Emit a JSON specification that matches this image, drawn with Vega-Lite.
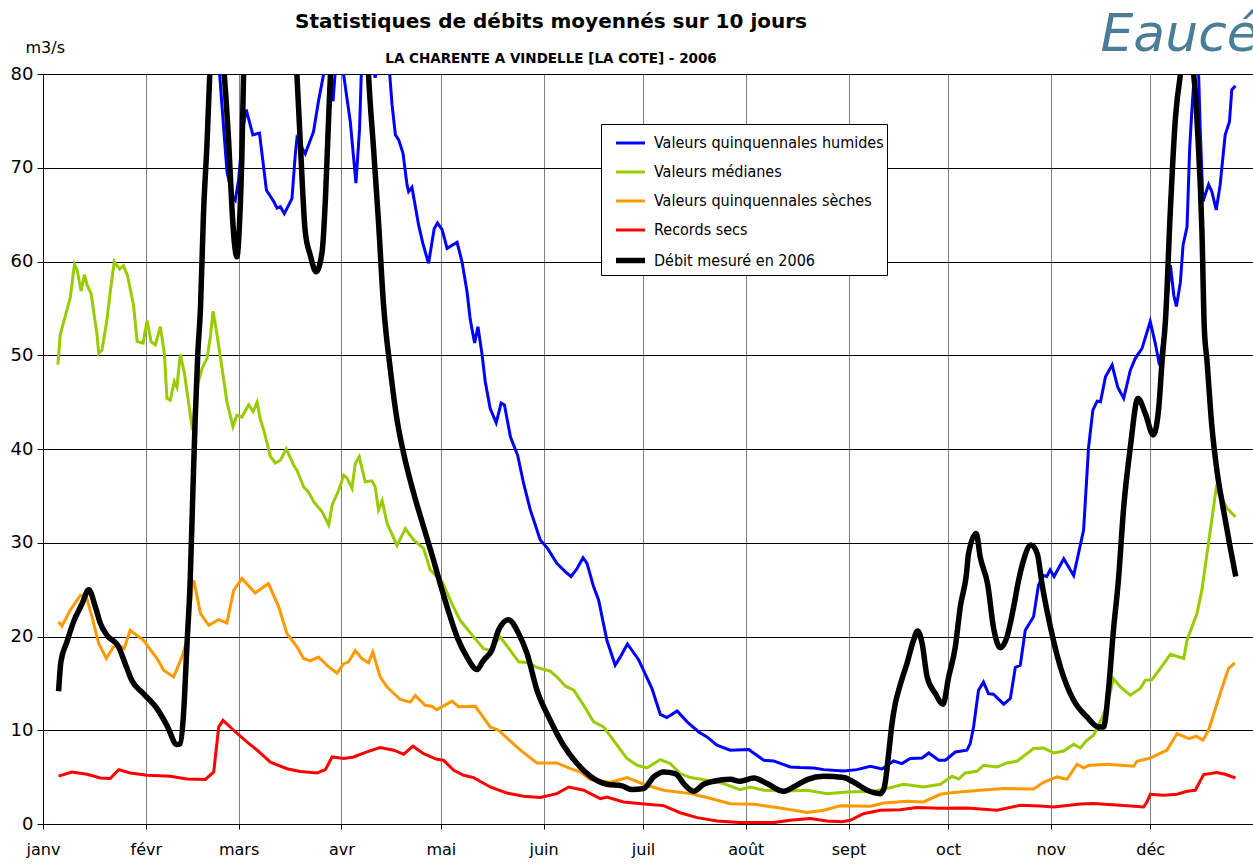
{
  "$schema": "https://vega.github.io/schema/vega-lite/v6.json",
  "width": 1210,
  "height": 750,
  "autosize": {"type": "none"},
  "padding": {"left": 43, "top": 74, "right": 0, "bottom": 44},
  "background": "white",
  "config": {
    "view": {"stroke": null},
    "font": "DejaVu Sans"
  },
  "title": {
    "text": "Statistiques de débits moyennés sur 10 jours",
    "subtitle": "LA CHARENTE A VINDELLE [LA COTE] - 2006",
    "anchor": "middle",
    "frame": "group",
    "dx": -97,
    "font": "DejaVu Sans",
    "fontSize": 20,
    "fontWeight": "bold",
    "color": "#000000",
    "subtitleFont": "DejaVu Sans",
    "subtitleFontSize": 13.5,
    "subtitleFontWeight": "bold",
    "subtitleColor": "#000000",
    "subtitlePadding": 20,
    "offset": -57
  },
  "data": {"values": [
    {"s":"H","j":4.5,"v":95},{"s":"H","j":30,"v":100},{"s":"H","j":50,"v":95},{"s":"H","j":52.3,"v":86},{"s":"H","j":53.3,"v":79.9},{"s":"H","j":54.5,"v":74.2},{"s":"H","j":55.5,"v":69.6},{"s":"H","j":57,"v":67.1},{"s":"H","j":58,"v":66.56},{"s":"H","j":59,"v":68.7},{"s":"H","j":60.5,"v":74.6},{"s":"H","j":61.3,"v":76.2},{"s":"H","j":63.3,"v":73.5},{"s":"H","j":65.3,"v":73.7},{"s":"H","j":67.4,"v":67.6},{"s":"H","j":69.6,"v":66.4},{"s":"H","j":70.6,"v":65.7},{"s":"H","j":71.6,"v":65.85},{"s":"H","j":72.8,"v":65.1},{"s":"H","j":75.1,"v":66.7},{"s":"H","j":76.1,"v":71.4},{"s":"H","j":76.6,"v":73.1},{"s":"H","j":79.1,"v":71.5},{"s":"H","j":81.6,"v":73.85},{"s":"H","j":83.1,"v":77.1},{"s":"H","j":84.6,"v":79.9},{"s":"H","j":86,"v":83},{"s":"H","j":87.5,"v":77.1},{"s":"H","j":88.5,"v":82},{"s":"H","j":90.7,"v":79.9},{"s":"H","j":92.7,"v":74.9},{"s":"H","j":94.4,"v":68.35},{"s":"H","j":95.5,"v":74.2},{"s":"H","j":96,"v":79.9},{"s":"H","j":98,"v":84},{"s":"H","j":100.2,"v":79.6},{"s":"H","j":102.5,"v":84},{"s":"H","j":104.6,"v":79.9},{"s":"H","j":105.3,"v":76.7},{"s":"H","j":106.3,"v":73.5},{"s":"H","j":107.3,"v":72.97},{"s":"H","j":108.6,"v":71.55},{"s":"H","j":109.8,"v":68.2},{"s":"H","j":110.3,"v":67.45},{"s":"H","j":111.3,"v":67.9},{"s":"H","j":113.3,"v":63.9},{"s":"H","j":114.6,"v":61.9},{"s":"H","j":116.3,"v":59.8},{"s":"H","j":118,"v":63.5},{"s":"H","j":119,"v":64.1},{"s":"H","j":120.4,"v":63.4},{"s":"H","j":121.9,"v":61.4},{"s":"H","j":124.9,"v":62.05},{"s":"H","j":126.4,"v":59.98},{"s":"H","j":127.9,"v":56.8},{"s":"H","j":128.9,"v":53.75},{"s":"H","j":130.2,"v":51.3},{"s":"H","j":131.2,"v":53.04},{"s":"H","j":132.4,"v":50.2},{"s":"H","j":133.4,"v":47.2},{"s":"H","j":134.9,"v":44.3},{"s":"H","j":136.7,"v":42.8},{"s":"H","j":138.2,"v":44.9},{"s":"H","j":139.2,"v":44.7},{"s":"H","j":141,"v":41.3},{"s":"H","j":143.2,"v":39.3},{"s":"H","j":145,"v":36.3},{"s":"H","j":147,"v":33.5},{"s":"H","j":150,"v":30.3},{"s":"H","j":152.2,"v":29.4},{"s":"H","j":155,"v":27.8},{"s":"H","j":157.6,"v":26.9},{"s":"H","j":159.3,"v":26.4},{"s":"H","j":161.1,"v":27.25},{"s":"H","j":162.9,"v":28.4},{"s":"H","j":164.1,"v":27.8},{"s":"H","j":166.1,"v":25.3},{"s":"H","j":167.6,"v":23.9},{"s":"H","j":170.1,"v":19.6},{"s":"H","j":172.6,"v":16.94},{"s":"H","j":174.1,"v":17.8},{"s":"H","j":176.3,"v":19.2},{"s":"H","j":179.7,"v":17.5},{"s":"H","j":183.7,"v":14.45},{"s":"H","j":186.2,"v":11.7},{"s":"H","j":188.2,"v":11.35},{"s":"H","j":191.3,"v":12.06},{"s":"H","j":194.3,"v":10.9},{"s":"H","j":197.8,"v":9.82},{"s":"H","j":200.3,"v":9.29},{"s":"H","j":203.3,"v":8.4},{"s":"H","j":207.3,"v":7.87},{"s":"H","j":212.9,"v":7.94},{"s":"H","j":217.4,"v":6.8},{"s":"H","j":220.4,"v":6.73},{"s":"H","j":225.4,"v":6.08},{"s":"H","j":228.4,"v":6.02},{"s":"H","j":232.5,"v":5.98},{"s":"H","j":235.5,"v":5.8},{"s":"H","j":241.5,"v":5.66},{"s":"H","j":245.5,"v":5.8},{"s":"H","j":249.6,"v":6.16},{"s":"H","j":253.1,"v":5.87},{"s":"H","j":256.6,"v":6.72},{"s":"H","j":259.1,"v":6.44},{"s":"H","j":261.6,"v":6.98},{"s":"H","j":265.2,"v":7.04},{"s":"H","j":267.2,"v":7.58},{"s":"H","j":270.2,"v":6.8},{"s":"H","j":272.2,"v":6.8},{"s":"H","j":275.2,"v":7.68},{"s":"H","j":278.7,"v":7.87},{"s":"H","j":279.7,"v":8.58},{"s":"H","j":280.7,"v":10.35},{"s":"H","j":282.2,"v":14.27},{"s":"H","j":283.7,"v":15.15},{"s":"H","j":285.2,"v":13.9},{"s":"H","j":286.7,"v":13.84},{"s":"H","j":289.8,"v":12.78},{"s":"H","j":291.8,"v":13.38},{"s":"H","j":293.3,"v":16.7},{"s":"H","j":294.8,"v":16.94},{"s":"H","j":296.3,"v":20.67},{"s":"H","j":298.8,"v":22.1},{"s":"H","j":300.3,"v":25.5},{"s":"H","j":301.8,"v":26.5},{"s":"H","j":302.8,"v":26.4},{"s":"H","j":303.8,"v":27.1},{"s":"H","j":305,"v":26.4},{"s":"H","j":307.9,"v":28.3},{"s":"H","j":310.9,"v":26.5},{"s":"H","j":313.9,"v":31.35},{"s":"H","j":315.4,"v":40.2},{"s":"H","j":316.7,"v":44.15},{"s":"H","j":318,"v":45.1},{"s":"H","j":319,"v":45.04},{"s":"H","j":320.5,"v":47.7},{"s":"H","j":322.5,"v":48.95},{"s":"H","j":324.2,"v":46.6},{"s":"H","j":326,"v":45.4},{"s":"H","j":328,"v":48.4},{"s":"H","j":329.5,"v":49.67},{"s":"H","j":331.5,"v":50.7},{"s":"H","j":334,"v":53.6},{"s":"H","j":335.5,"v":51.3},{"s":"H","j":336.8,"v":48.95},{"s":"H","j":338,"v":52},{"s":"H","j":340.1,"v":59.6},{"s":"H","j":341.1,"v":56.4},{"s":"H","j":341.9,"v":55.2},{"s":"H","j":343.1,"v":57.8},{"s":"H","j":343.9,"v":61.75},{"s":"H","j":345.1,"v":63.7},{"s":"H","j":345.9,"v":72.1},{"s":"H","j":346.6,"v":76.35},{"s":"H","j":347.3,"v":79.9},{"s":"H","j":348,"v":84},{"s":"H","j":348.6,"v":79.9},{"s":"H","j":349.1,"v":73.85},{"s":"H","j":349.9,"v":66.4},{"s":"H","j":351.6,"v":68.2},{"s":"H","j":352.6,"v":67.45},{"s":"H","j":353.9,"v":65.5},{"s":"H","j":355.1,"v":68.2},{"s":"H","j":356.6,"v":73.5},{"s":"H","j":357.9,"v":74.9},{"s":"H","j":358.6,"v":78.3},{"s":"H","j":359.7,"v":78.75},

    {"s":"M","j":4.5,"v":49.0},{"s":"M","j":5.2,"v":52.2},{"s":"M","j":8.2,"v":56.1},{"s":"M","j":9.5,"v":59.7},{"s":"M","j":10.3,"v":59.1},{"s":"M","j":11.5,"v":56.85},{"s":"M","j":12.5,"v":58.6},{"s":"M","j":13.3,"v":57.5},{"s":"M","j":14.5,"v":56.6},{"s":"M","j":16.3,"v":52.2},{"s":"M","j":16.8,"v":50.2},{"s":"M","j":17.8,"v":50.55},{"s":"M","j":19.3,"v":53.8},{"s":"M","j":20.3,"v":56.8},{"s":"M","j":21.5,"v":60.0},{"s":"M","j":23.1,"v":59.2},{"s":"M","j":24.3,"v":59.55},{"s":"M","j":25.5,"v":58.5},{"s":"M","j":27.3,"v":55.36},{"s":"M","j":28.4,"v":51.45},{"s":"M","j":30.2,"v":51.3},{"s":"M","j":31.4,"v":53.7},{"s":"M","j":32.6,"v":51.45},{"s":"M","j":33.9,"v":51.1},{"s":"M","j":35.4,"v":53.05},{"s":"M","j":36.6,"v":50.2},{"s":"M","j":37.4,"v":45.4},{"s":"M","j":38.4,"v":45.2},{"s":"M","j":39.6,"v":47.2},{"s":"M","j":40.4,"v":46.6},{"s":"M","j":41.4,"v":50.1},{"s":"M","j":42.6,"v":48.2},{"s":"M","j":45.1,"v":42.0},{"s":"M","j":46.4,"v":46.6},{"s":"M","j":48,"v":48.6},{"s":"M","j":49.5,"v":49.7},{"s":"M","j":50.5,"v":52.0},{"s":"M","j":51.3,"v":54.7},{"s":"M","j":52.5,"v":52.2},{"s":"M","j":53.5,"v":49.85},{"s":"M","j":55.5,"v":45.0},{"s":"M","j":57.3,"v":42.4},{"s":"M","j":58.5,"v":43.6},{"s":"M","j":60,"v":43.4},{"s":"M","j":62,"v":44.7},{"s":"M","j":63.4,"v":44.0},{"s":"M","j":64.6,"v":45.0},{"s":"M","j":65.6,"v":43.1},{"s":"M","j":66.6,"v":42.0},{"s":"M","j":68.6,"v":39.2},{"s":"M","j":70.1,"v":38.5},{"s":"M","j":71.6,"v":38.8},{"s":"M","j":73.4,"v":40.0},{"s":"M","j":75.6,"v":38.3},{"s":"M","j":76.6,"v":37.75},{"s":"M","j":78.6,"v":35.97},{"s":"M","j":80.1,"v":35.4},{"s":"M","j":81.6,"v":34.4},{"s":"M","j":84.2,"v":33.3},{"s":"M","j":86.2,"v":31.9},{"s":"M","j":87.2,"v":34.0},{"s":"M","j":89.2,"v":35.6},{"s":"M","j":90.7,"v":37.2},{"s":"M","j":91.7,"v":36.9},{"s":"M","j":93.2,"v":35.8},{"s":"M","j":94.2,"v":38.46},{"s":"M","j":95.4,"v":39.17},{"s":"M","j":97.2,"v":36.5},{"s":"M","j":99.2,"v":36.6},{"s":"M","j":100.2,"v":35.97},{"s":"M","j":101.2,"v":33.5},{"s":"M","j":102.3,"v":34.5},{"s":"M","j":103.8,"v":32.06},{"s":"M","j":106.8,"v":29.7},{"s":"M","j":109.3,"v":31.5},{"s":"M","j":111.8,"v":30.3},{"s":"M","j":114.8,"v":29.4},{"s":"M","j":116.8,"v":27.1},{"s":"M","j":118.8,"v":26.4},{"s":"M","j":120.5,"v":25.8},{"s":"M","j":123.4,"v":23.45},{"s":"M","j":125.9,"v":21.7},{"s":"M","j":129.9,"v":19.96},{"s":"M","j":132.9,"v":18.7},{"s":"M","j":134.9,"v":18.5},{"s":"M","j":137.9,"v":19.96},{"s":"M","j":141,"v":18.5},{"s":"M","j":143.5,"v":17.3},{"s":"M","j":146.5,"v":17.2},{"s":"M","j":149,"v":16.7},{"s":"M","j":153,"v":16.3},{"s":"M","j":155,"v":15.7},{"s":"M","j":157.6,"v":14.7},{"s":"M","j":160.1,"v":14.27},{"s":"M","j":163.1,"v":12.67},{"s":"M","j":166.1,"v":10.9},{"s":"M","j":169.1,"v":10.35},{"s":"M","j":172.1,"v":8.93},{"s":"M","j":176.2,"v":6.98},{"s":"M","j":179.2,"v":6.26},{"s":"M","j":182.2,"v":5.98},{"s":"M","j":186.2,"v":6.87},{"s":"M","j":189.2,"v":6.45},{"s":"M","j":192.2,"v":5.38},{"s":"M","j":195.3,"v":4.95},{"s":"M","j":200.3,"v":4.66},{"s":"M","j":205.3,"v":4.31},{"s":"M","j":210.3,"v":3.67},{"s":"M","j":213.4,"v":3.95},{"s":"M","j":217.4,"v":3.6},{"s":"M","j":224.4,"v":3.52},{"s":"M","j":230.5,"v":3.6},{"s":"M","j":236.5,"v":3.24},{"s":"M","j":242.5,"v":3.42},{"s":"M","j":250.6,"v":3.49},{"s":"M","j":254.6,"v":3.78},{"s":"M","j":259.6,"v":4.24},{"s":"M","j":265.6,"v":3.95},{"s":"M","j":270.7,"v":4.24},{"s":"M","j":274.2,"v":5.09},{"s":"M","j":276.2,"v":4.8},{"s":"M","j":278.2,"v":5.44},{"s":"M","j":281.7,"v":5.62},{"s":"M","j":283.7,"v":6.26},{"s":"M","j":287.8,"v":6.08},{"s":"M","j":290.8,"v":6.51},{"s":"M","j":293.8,"v":6.69},{"s":"M","j":298.8,"v":8.05},{"s":"M","j":301.8,"v":8.11},{"s":"M","j":304.9,"v":7.58},{"s":"M","j":307.9,"v":7.79},{"s":"M","j":310.9,"v":8.5},{"s":"M","j":312.9,"v":8.11},{"s":"M","j":314.9,"v":8.93},{"s":"M","j":316.9,"v":9.47},{"s":"M","j":318.9,"v":10.9},{"s":"M","j":320.9,"v":12.49},{"s":"M","j":322.9,"v":15.52},{"s":"M","j":325,"v":14.62},{"s":"M","j":328,"v":13.74},{"s":"M","j":331,"v":14.45},{"s":"M","j":332.5,"v":15.34},{"s":"M","j":334.5,"v":15.4},{"s":"M","j":337,"v":16.58},{"s":"M","j":340.1,"v":18.1},{"s":"M","j":344.1,"v":17.65},{"s":"M","j":345.1,"v":19.6},{"s":"M","j":348.1,"v":22.45},{"s":"M","j":349.6,"v":25.0},{"s":"M","j":353.9,"v":35.8},{"s":"M","j":357.2,"v":33.66},{"s":"M","j":359.7,"v":32.76},

    {"s":"S","j":4.7,"v":21.56},{"s":"S","j":5.7,"v":21.1},{"s":"S","j":8.2,"v":22.8},{"s":"S","j":11.3,"v":24.4},{"s":"S","j":13.1,"v":24.2},{"s":"S","j":14.8,"v":22.1},{"s":"S","j":16.8,"v":19.25},{"s":"S","j":19.1,"v":17.65},{"s":"S","j":21.3,"v":18.9},{"s":"S","j":22.8,"v":19.07},{"s":"S","j":24.5,"v":18.72},{"s":"S","j":26.3,"v":20.67},{"s":"S","j":30.3,"v":19.6},{"s":"S","j":34.4,"v":17.65},{"s":"S","j":36.4,"v":16.4},{"s":"S","j":39.4,"v":15.69},{"s":"S","j":41.9,"v":17.8},{"s":"S","j":43.4,"v":19.6},{"s":"S","j":45,"v":25.3},{"s":"S","j":45.5,"v":26.0},{"s":"S","j":47.5,"v":22.45},{"s":"S","j":50,"v":21.2},{"s":"S","j":53,"v":21.8},{"s":"S","j":55.5,"v":21.45},{"s":"S","j":57.5,"v":24.9},{"s":"S","j":60,"v":26.2},{"s":"S","j":64,"v":24.65},{"s":"S","j":68,"v":25.65},{"s":"S","j":71.1,"v":23.16},{"s":"S","j":73.6,"v":20.3},{"s":"S","j":76.6,"v":18.9},{"s":"S","j":78.6,"v":17.65},{"s":"S","j":80.6,"v":17.4},{"s":"S","j":83.1,"v":17.8},{"s":"S","j":86.2,"v":16.75},{"s":"S","j":88.7,"v":16.1},{"s":"S","j":90.7,"v":17.1},{"s":"S","j":92.2,"v":17.3},{"s":"S","j":94.2,"v":18.5},{"s":"S","j":96.2,"v":17.65},{"s":"S","j":98.2,"v":17.2},{"s":"S","j":99.5,"v":18.35},{"s":"S","j":101.7,"v":15.69},{"s":"S","j":103.8,"v":14.6},{"s":"S","j":107.8,"v":13.28},{"s":"S","j":110.8,"v":13.0},{"s":"S","j":112.3,"v":13.7},{"s":"S","j":115.3,"v":12.67},{"s":"S","j":117.3,"v":12.56},{"s":"S","j":118.8,"v":12.2},{"s":"S","j":121.4,"v":12.7},{"s":"S","j":123.4,"v":13.1},{"s":"S","j":125.4,"v":12.5},{"s":"S","j":130.4,"v":12.56},{"s":"S","j":134.9,"v":10.35},{"s":"S","j":137.4,"v":10.0},{"s":"S","j":144,"v":7.87},{"s":"S","j":149,"v":6.51},{"s":"S","j":155,"v":6.51},{"s":"S","j":159.1,"v":5.9},{"s":"S","j":162.1,"v":5.55},{"s":"S","j":165.1,"v":4.74},{"s":"S","j":171.2,"v":4.45},{"s":"S","j":176.2,"v":4.95},{"s":"S","j":181.2,"v":4.24},{"s":"S","j":187.2,"v":3.6},{"s":"S","j":195.3,"v":3.24},{"s":"S","j":200.3,"v":2.82},{"s":"S","j":207.3,"v":2.17},{"s":"S","j":214.4,"v":2.1},{"s":"S","j":222.4,"v":1.71},{"s":"S","j":230.5,"v":1.22},{"s":"S","j":235.5,"v":1.46},{"s":"S","j":240.5,"v":1.94},{"s":"S","j":249.6,"v":1.89},{"s":"S","j":253.6,"v":2.24},{"s":"S","j":260.6,"v":2.42},{"s":"S","j":265.6,"v":2.35},{"s":"S","j":270.7,"v":3.17},{"s":"S","j":274.7,"v":3.35},{"s":"S","j":282.8,"v":3.6},{"s":"S","j":289.8,"v":3.78},{"s":"S","j":298.8,"v":3.74},{"s":"S","j":301.8,"v":4.45},{"s":"S","j":305.9,"v":5.02},{"s":"S","j":308.9,"v":4.77},{"s":"S","j":311.9,"v":6.37},{"s":"S","j":313.9,"v":5.98},{"s":"S","j":315.4,"v":6.23},{"s":"S","j":321,"v":6.37},{"s":"S","j":329,"v":6.16},{"s":"S","j":330,"v":6.69},{"s":"S","j":334,"v":7.04},{"s":"S","j":339,"v":7.87},{"s":"S","j":342.1,"v":9.65},{"s":"S","j":345.6,"v":9.11},{"s":"S","j":347.9,"v":9.36},{"s":"S","j":349.9,"v":8.93},{"s":"S","j":351.6,"v":10.0},{"s":"S","j":355.1,"v":13.92},{"s":"S","j":357.6,"v":16.58},{"s":"S","j":359.5,"v":17.18},

    {"s":"R","j":4.7,"v":5.1},{"s":"R","j":8.7,"v":5.55},{"s":"R","j":13.3,"v":5.3},{"s":"R","j":17.3,"v":4.9},{"s":"R","j":20.3,"v":4.85},{"s":"R","j":22.8,"v":5.8},{"s":"R","j":26.3,"v":5.45},{"s":"R","j":31.4,"v":5.2},{"s":"R","j":38.4,"v":5.1},{"s":"R","j":43.4,"v":4.8},{"s":"R","j":49,"v":4.75},{"s":"R","j":51.5,"v":5.55},{"s":"R","j":53,"v":10.35},{"s":"R","j":54.3,"v":11.05},{"s":"R","j":57.5,"v":10.0},{"s":"R","j":61.5,"v":8.75},{"s":"R","j":64.6,"v":7.87},{"s":"R","j":68.6,"v":6.6},{"s":"R","j":73.6,"v":5.9},{"s":"R","j":77.6,"v":5.6},{"s":"R","j":82.7,"v":5.45},{"s":"R","j":85.2,"v":5.8},{"s":"R","j":87.2,"v":7.15},{"s":"R","j":90.7,"v":6.98},{"s":"R","j":93.7,"v":7.15},{"s":"R","j":97.7,"v":7.7},{"s":"R","j":101.7,"v":8.15},{"s":"R","j":105.8,"v":7.87},{"s":"R","j":108.8,"v":7.44},{"s":"R","j":111.6,"v":8.3},{"s":"R","j":114.8,"v":7.5},{"s":"R","j":118.8,"v":6.9},{"s":"R","j":120.8,"v":6.8},{"s":"R","j":123.9,"v":5.73},{"s":"R","j":126.9,"v":5.2},{"s":"R","j":129.9,"v":4.95},{"s":"R","j":134.9,"v":3.95},{"s":"R","j":140,"v":3.3},{"s":"R","j":145,"v":2.96},{"s":"R","j":150,"v":2.82},{"s":"R","j":155,"v":3.24},{"s":"R","j":158.6,"v":3.95},{"s":"R","j":163.1,"v":3.6},{"s":"R","j":168.1,"v":2.7},{"s":"R","j":170.1,"v":2.88},{"s":"R","j":175.1,"v":2.35},{"s":"R","j":182.2,"v":2.1},{"s":"R","j":187.2,"v":1.96},{"s":"R","j":192.2,"v":1.2},{"s":"R","j":197.3,"v":0.68},{"s":"R","j":203.3,"v":0.32},{"s":"R","j":210.3,"v":0.15},{"s":"R","j":220.4,"v":0.15},{"s":"R","j":225.4,"v":0.4},{"s":"R","j":231.5,"v":0.58},{"s":"R","j":236.5,"v":0.32},{"s":"R","j":241,"v":0.25},{"s":"R","j":243.5,"v":0.4},{"s":"R","j":247.5,"v":1.1},{"s":"R","j":252.6,"v":1.46},{"s":"R","j":258.6,"v":1.53},{"s":"R","j":263.6,"v":1.75},{"s":"R","j":270.7,"v":1.68},{"s":"R","j":278.7,"v":1.71},{"s":"R","j":287.8,"v":1.46},{"s":"R","j":294.8,"v":2.0},{"s":"R","j":300.8,"v":1.92},{"s":"R","j":304.9,"v":1.81},{"s":"R","j":312.9,"v":2.13},{"s":"R","j":316.9,"v":2.18},{"s":"R","j":325,"v":2.0},{"s":"R","j":332,"v":1.81},{"s":"R","j":333,"v":2.35},{"s":"R","j":334,"v":3.17},{"s":"R","j":338,"v":3.06},{"s":"R","j":342.1,"v":3.17},{"s":"R","j":345.1,"v":3.49},{"s":"R","j":347.6,"v":3.6},{"s":"R","j":350.1,"v":5.27},{"s":"R","j":354.1,"v":5.49},{"s":"R","j":356.6,"v":5.3},{"s":"R","j":359.7,"v":4.91},

    {"s":"D","j":4.7,"v":14.16},{"s":"D","j":5.4,"v":17.3},{"s":"D","j":7.2,"v":19.4},{"s":"D","j":9.2,"v":21.56},{"s":"D","j":11.8,"v":23.5},{"s":"D","j":13.8,"v":25.0},{"s":"D","j":15.8,"v":23.16},{"s":"D","j":17.3,"v":21.4},{"s":"D","j":19.3,"v":20.14},{"s":"D","j":22.8,"v":18.9},{"s":"D","j":24.8,"v":17.1},{"s":"D","j":26.8,"v":15.3},{"s":"D","j":30.3,"v":13.9},{"s":"D","j":34.4,"v":12.3},{"s":"D","j":37.4,"v":10.5},{"s":"D","j":40.4,"v":8.47},{"s":"D","j":41.4,"v":8.58},{"s":"D","j":42.4,"v":11.8},{"s":"D","j":43.4,"v":18.9},{"s":"D","j":44.4,"v":26.0},{"s":"D","j":45.2,"v":35.3},{"s":"D","j":45.9,"v":43.1},{"s":"D","j":46.7,"v":50.2},{"s":"D","j":47.5,"v":55},{"s":"D","j":48.4,"v":64.97},{"s":"D","j":49.5,"v":72.8},{"s":"D","j":50.3,"v":79.9},{"s":"D","j":52.5,"v":88},{"s":"D","j":54.7,"v":79.9},{"s":"D","j":56,"v":72.8},{"s":"D","j":57,"v":65.7},{"s":"D","j":57.7,"v":62.1},{"s":"D","j":58.5,"v":60.5},{"s":"D","j":59.3,"v":64.25},{"s":"D","j":60,"v":71.4},{"s":"D","j":60.5,"v":79.9},{"s":"D","j":63,"v":95},{"s":"D","j":68,"v":100},{"s":"D","j":73,"v":98},{"s":"D","j":76.6,"v":79.9},{"s":"D","j":77.6,"v":72.8},{"s":"D","j":79.1,"v":63.2},{"s":"D","j":80.6,"v":60.7},{"s":"D","j":82.4,"v":58.9},{"s":"D","j":84.2,"v":61.05},{"s":"D","j":85.2,"v":66.75},{"s":"D","j":86,"v":73.85},{"s":"D","j":86.7,"v":79.9},{"s":"D","j":89,"v":92},{"s":"D","j":93,"v":100},{"s":"D","j":97,"v":90},{"s":"D","j":98.2,"v":79.9},{"s":"D","j":99.7,"v":72.1},{"s":"D","j":101.2,"v":64.25},{"s":"D","j":102.7,"v":55.5},{"s":"D","j":104.8,"v":48.4},{"s":"D","j":106.8,"v":43.1},{"s":"D","j":108.8,"v":39.5},{"s":"D","j":111.8,"v":35.3},{"s":"D","j":114.8,"v":31.7},{"s":"D","j":117.8,"v":28.15},{"s":"D","j":119.8,"v":25.65},{"s":"D","j":121.9,"v":23.16},{"s":"D","j":124.9,"v":19.96},{"s":"D","j":127.9,"v":17.8},{"s":"D","j":130.9,"v":16.48},{"s":"D","j":132.9,"v":17.47},{"s":"D","j":135.4,"v":18.54},{"s":"D","j":137.4,"v":20.67},{"s":"D","j":140.4,"v":21.8},{"s":"D","j":143.5,"v":20.3},{"s":"D","j":146,"v":18.2},{"s":"D","j":149,"v":14.27},{"s":"D","j":153,"v":11.07},{"s":"D","j":157,"v":8.4},{"s":"D","j":161.1,"v":6.45},{"s":"D","j":165.1,"v":5.09},{"s":"D","j":170.1,"v":4.24},{"s":"D","j":174.7,"v":4.06},{"s":"D","j":177.7,"v":3.67},{"s":"D","j":181.2,"v":3.78},{"s":"D","j":184.2,"v":5.02},{"s":"D","j":187.2,"v":5.55},{"s":"D","j":190.7,"v":5.38},{"s":"D","j":193.7,"v":4.13},{"s":"D","j":196.3,"v":3.49},{"s":"D","j":199.3,"v":4.24},{"s":"D","j":202.3,"v":4.56},{"s":"D","j":207.3,"v":4.77},{"s":"D","j":210.3,"v":4.56},{"s":"D","j":214.4,"v":4.91},{"s":"D","j":218.4,"v":4.31},{"s":"D","j":223.4,"v":3.49},{"s":"D","j":226.4,"v":3.95},{"s":"D","j":230.5,"v":4.74},{"s":"D","j":235.5,"v":5.09},{"s":"D","j":241.5,"v":4.95},{"s":"D","j":244.5,"v":4.48},{"s":"D","j":248.6,"v":3.6},{"s":"D","j":252.6,"v":3.24},{"s":"D","j":253.8,"v":3.95},{"s":"D","j":255.1,"v":7.51},{"s":"D","j":256.1,"v":10.7},{"s":"D","j":257.1,"v":12.85},{"s":"D","j":258.4,"v":14.62},{"s":"D","j":260.6,"v":17.1},{"s":"D","j":262.6,"v":19.6},{"s":"D","j":263.8,"v":20.6},{"s":"D","j":265.2,"v":19.25},{"s":"D","j":266.7,"v":15.69},{"s":"D","j":269.2,"v":13.9},{"s":"D","j":271.5,"v":12.78},{"s":"D","j":273.2,"v":15.69},{"s":"D","j":275.2,"v":18.9},{"s":"D","j":276.7,"v":23.16},{"s":"D","j":278.5,"v":26.5},{"s":"D","j":279.2,"v":28.86},{"s":"D","j":281.5,"v":31.0},{"s":"D","j":282.7,"v":28.5},{"s":"D","j":285,"v":25.5},{"s":"D","j":286.7,"v":21.0},{"s":"D","j":288.8,"v":18.8},{"s":"D","j":290.8,"v":19.96},{"s":"D","j":292.8,"v":23.16},{"s":"D","j":294.3,"v":26.0},{"s":"D","j":295.8,"v":28.15},{"s":"D","j":298,"v":29.75},{"s":"D","j":299.9,"v":28.86},{"s":"D","j":301.4,"v":25.5},{"s":"D","j":303.9,"v":21.0},{"s":"D","j":306.9,"v":16.75},{"s":"D","j":310.9,"v":13.2},{"s":"D","j":314.9,"v":11.42},{"s":"D","j":318.4,"v":10.35},{"s":"D","j":319.9,"v":10.35},{"s":"D","j":321.4,"v":14.27},{"s":"D","j":322.9,"v":20.67},{"s":"D","j":324.4,"v":26.0},{"s":"D","j":326,"v":33.8},{"s":"D","j":328,"v":40.2},{"s":"D","j":330.3,"v":45.4},{"s":"D","j":332.5,"v":43.8},{"s":"D","j":334.9,"v":41.5},{"s":"D","j":336.5,"v":44.15},{"s":"D","j":337.6,"v":49.5},{"s":"D","j":338.6,"v":53.75},{"s":"D","j":340.1,"v":65.7},{"s":"D","j":341.6,"v":75.3},{"s":"D","j":343.1,"v":79.9},{"s":"D","j":345.2,"v":82.5},{"s":"D","j":347.1,"v":79.9},{"s":"D","j":348.3,"v":73.85},{"s":"D","j":349.6,"v":63.2},{"s":"D","j":350.3,"v":53},{"s":"D","j":351.1,"v":49.5},{"s":"D","j":352.6,"v":42.4},{"s":"D","j":354.1,"v":37.75},{"s":"D","j":356.1,"v":33.5},{"s":"D","j":358.1,"v":29.56},{"s":"D","j":359.8,"v":26.4}
  ]},
  "encoding": {
    "y": {
      "field": "v",
      "type": "quantitative",
      "scale": {"domain": [0, 80], "nice": false, "zero": false},
      "axis": {
        "values": [0, 10, 20, 30, 40, 50, 60, 70, 80],
        "grid": true,
        "gridColor": "#000000",
        "gridOpacity": 1,
        "gridWidth": 1,
        "domainColor": "#000000",
        "tickColor": "#000000",
        "tickSize": 6,
        "labelFont": "DejaVu Sans",
        "labelFontSize": 18,
        "labelColor": "#000000",
        "labelPadding": 4,
        "title": "m3/s",
        "titleAngle": 0,
        "titleAlign": "left",
        "titleBaseline": "alphabetic",
        "titleX": -18,
        "titleY": -22,
        "titleFont": "DejaVu Sans",
        "titleFontSize": 16,
        "titleFontWeight": "normal",
        "titleColor": "#000000"
      }
    },
    "color": {
      "field": "s",
      "type": "nominal",
      "scale": {"domain": ["H", "M", "S", "R", "D"], "range": ["#0000ff", "#99cc00", "#ff9900", "#ff0000", "#000000"]},
      "legend": {
        "title": null,
        "orient": "none",
        "legendX": 558,
        "legendY": 50,
        "direction": "vertical",
        "fillColor": "#ffffff",
        "strokeColor": "#000000",
        "padding": 3,
        "rowPadding": 5,
        "symbolType": "stroke",
        "symbolSize": 841,
        "symbolOffset": 9,
        "labelOffset": 6,
        "labelFont": "DejaVu Sans Condensed, DejaVu Sans",
        "labelFontSize": 16,
        "labelColor": "#000000",
        "labelLimit": 400,
        "labelExpr": "datum.value == 'H' ? 'Valeurs quinquennales humides\u00a0\u00a0\u00a0\u00a0' : datum.value == 'M' ? 'Valeurs médianes' : datum.value == 'S' ? 'Valeurs quinquennales sèches' : datum.value == 'R' ? 'Records secs' : 'Débit mesuré en 2006'"
      }
    },
    "strokeWidth": {
      "field": "s",
      "type": "nominal",
      "scale": {"type": "ordinal", "domain": ["H", "M", "S", "R", "D"], "range": [3, 3, 3, 3, 5.5]},
      "legend": {
        "title": null,
        "orient": "none",
        "legendX": 558,
        "legendY": 50,
        "direction": "vertical",
        "fillColor": "#ffffff",
        "strokeColor": "#000000",
        "padding": 3,
        "rowPadding": 5,
        "symbolType": "stroke",
        "symbolSize": 841,
        "symbolOffset": 9,
        "labelOffset": 6,
        "labelFont": "DejaVu Sans Condensed, DejaVu Sans",
        "labelFontSize": 16,
        "labelColor": "#000000",
        "labelLimit": 400,
        "labelExpr": "datum.value == 'H' ? 'Valeurs quinquennales humides\u00a0\u00a0\u00a0\u00a0' : datum.value == 'M' ? 'Valeurs médianes' : datum.value == 'S' ? 'Valeurs quinquennales sèches' : datum.value == 'R' ? 'Records secs' : 'Débit mesuré en 2006'"
      }
    }
  },
  "layer": [
    {
      "transform": [{"filter": "datum.s != 'D'"}],
      "mark": {"type": "line", "clip": true, "interpolate": "linear"},
      "encoding": {
        "x": {
          "field": "j",
          "type": "quantitative",
          "scale": {"domain": [0, 365], "nice": false, "zero": false},
          "axis": {
            "values": [0, 31, 59, 90, 120, 151, 181, 212, 243, 273, 304, 334],
            "labelExpr": "['janv','févr','mars','avr','mai','juin','juil','août','sept','oct','nov','déc'][indexof([0,31,59,90,120,151,181,212,243,273,304,334], datum.value)]",
            "grid": true,
            "gridColor": "#808080",
            "gridOpacity": 1,
            "gridWidth": 1,
            "domainColor": "#000000",
            "tickColor": "#000000",
            "tickSize": 5,
            "labelFlush": false,
            "labelOverlap": false,
            "labelFont": "DejaVu Sans",
            "labelFontSize": 16,
            "labelColor": "#000000",
            "labelPadding": 12,
            "title": null
          }
        }
      }
    },
    {
      "transform": [{"filter": "datum.s == 'D'"}],
      "mark": {"type": "line", "clip": true, "interpolate": "monotone"},
      "encoding": {
        "x": {
          "field": "j",
          "type": "quantitative",
          "scale": {"domain": [0, 365], "nice": false, "zero": false},
          "axis": {
            "orient": "top",
            "labels": false,
            "ticks": false,
            "domain": false,
            "grid": false,
            "title": "Eaucé",
            "titleX": 1057,
            "titleY": -24,
            "titleAlign": "left",
            "titleBaseline": "alphabetic",
            "titleAngle": 0,
            "titleFont": "DejaVu Sans",
            "titleFontStyle": "italic",
            "titleFontWeight": 200,
            "titleFontSize": 52,
            "titleColor": "#4a7d96"
          }
        }
      }
    }
  ],
  "resolve": {"axis": {"x": "independent"}}
}
